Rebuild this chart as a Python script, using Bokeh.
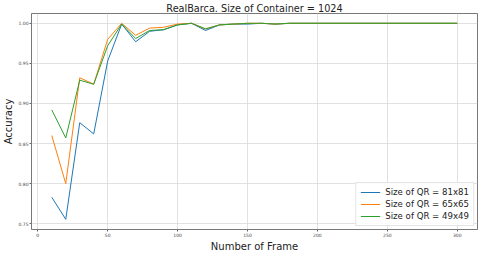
from bokeh.plotting import figure
from bokeh.embed import file_html
from bokeh.resources import INLINE
from bokeh.models import FixedTicker, NumeralTickFormatter, Legend, LegendItem, Range1d

frames = list(range(10, 301, 10))

acc_81 = [0.783, 0.7555, 0.876, 0.862, 0.953, 0.999, 0.977, 0.990, 0.992, 0.998,
          1.000, 0.991, 0.998, 0.999, 0.999, 1.000, 0.999, 1.000, 1.000, 1.000,
          1.000, 1.000, 1.000, 1.000, 1.000, 1.000, 1.000, 1.000, 1.000, 1.000]
acc_65 = [0.860, 0.800, 0.932, 0.924, 0.980, 1.000, 0.985, 0.994, 0.995, 0.999,
          1.000, 0.993, 0.998, 0.999, 1.000, 1.000, 0.999, 1.000, 1.000, 1.000,
          1.000, 1.000, 1.000, 1.000, 1.000, 1.000, 1.000, 1.000, 1.000, 1.000]
acc_49 = [0.892, 0.857, 0.929, 0.924, 0.972, 0.999, 0.981, 0.991, 0.992, 0.998,
          1.000, 0.993, 0.998, 0.999, 1.000, 1.000, 0.999, 1.000, 1.000, 1.000,
          1.000, 1.000, 1.000, 1.000, 1.000, 1.000, 1.000, 1.000, 1.000, 1.000]

labels = ["Size of QR = 81x81", "Size of QR = 65x65", "Size of QR = 49x49"]
colors = ["#1f77b4", "#ff7f0e", "#2ca02c"]
x_ticks = [0, 50, 100, 150, 200, 250, 300]
y_ticks = [0.75, 0.80, 0.85, 0.90, 0.95, 1.00]

FONT = "DejaVu Sans"

p = figure(frame_width=446, frame_height=216, output_backend="svg", toolbar_location=None,
           title="RealBarca. Size of Container = 1024",
           x_range=Range1d(-4.5, 314.5), y_range=Range1d(0.7428, 1.0122),
           min_border_left=1, min_border_right=1, min_border_top=0, min_border_bottom=0)

p.title.align = "center"
p.title.text_font = FONT
p.title.text_font_size = "9.7px"
p.title.text_font_style = "normal"
p.title.text_color = "#222222"
p.title.standoff = 0

renderers = []
for ys, c in zip([acc_81, acc_65, acc_49], colors):
    r = p.line(frames, ys, line_color=c, line_width=1.0)
    renderers.append(r)

legend = Legend(items=[LegendItem(label=l, renderers=[r]) for l, r in zip(labels, renderers)],
                location="bottom_right")
legend.label_text_font = FONT
legend.label_text_font_size = "8.6px"
legend.label_text_color = "#222222"
legend.glyph_width = 20
legend.glyph_height = 10
legend.label_height = 10
legend.label_standoff = 5
legend.spacing = 2
legend.padding = 4
legend.margin = 3
legend.border_line_color = "#cccccc"
legend.background_fill_alpha = 0.85
p.add_layout(legend)

for ax in (p.xaxis, p.yaxis):
    ax.axis_label_text_font = FONT
    ax.axis_label_text_font_style = "normal"
    ax.axis_label_text_font_size = "10px"
    ax.axis_label_text_color = "#222222"
    ax.major_label_text_font = FONT
    ax.major_label_text_font_size = "4.5px"
    ax.major_label_text_color = "#444444"
    ax.minor_tick_line_color = None
    ax.major_tick_out = 2
    ax.major_tick_in = 0
    ax.major_label_standoff = 1
    ax.axis_label_standoff = 1
    ax.axis_line_color = None
    ax.major_tick_line_color = "#666666"

p.xaxis.axis_label = "Number of Frame"
p.yaxis.axis_label = "Accuracy"
p.xaxis.ticker = FixedTicker(ticks=x_ticks)
p.yaxis.ticker = FixedTicker(ticks=y_ticks)
p.yaxis.formatter = NumeralTickFormatter(format="0.00")

p.grid.grid_line_color = "#d9d9d9"
p.grid.grid_line_width = 0.8
p.outline_line_color = "#555555"
p.outline_line_width = 0.8
p.background_fill_color = "white"
p.border_fill_color = "white"

open("out.html", "w").write(file_html(p, INLINE))
